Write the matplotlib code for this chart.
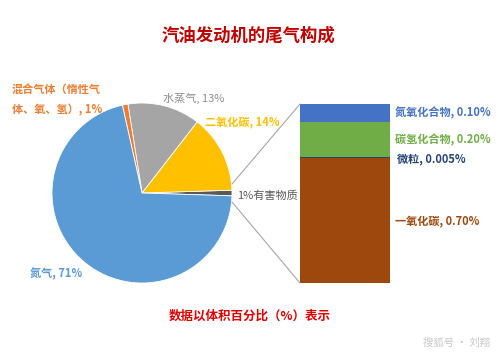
import matplotlib
matplotlib.use("Agg")
import matplotlib.pyplot as plt
from matplotlib.patches import ConnectionPatch
import numpy as np

plt.rcParams['font.family'] = ['Noto Sans CJK SC', 'DejaVu Sans']

# Pie data (counter-clockwise from the harmful slice at 3 o'clock)
pie_labels = ["1%有害物质", "二氧化碳, 14%", "水蒸气, 13%", "混合气体（惰性气\n体、氧、氢）, 1%", "氮气, 71%"]
pie_values = [1, 14, 13, 1, 71]
pie_colors = ["#595959", "#FFC000", "#A5A5A5", "#ED7D31", "#5B9BD5"]

# Stacked bar data (bottom to top)
bar_labels = ["一氧化碳, 0.70%", "微粒, 0.005%", "碳氢化合物, 0.20%", "氮氧化合物, 0.10%"]
bar_values = [0.70, 0.005, 0.20, 0.10]
bar_colors = ["#9E480E", "#264478", "#70AD47", "#4472C4"]

title = "汽油发动机的尾气构成"
note = "数据以体积百分比（%）表示"
watermark = "搜狐号 · 刘翔"

W, H = 500, 356
fig = plt.figure(figsize=(W / 100, H / 100), dpi=100)
fig.patch.set_facecolor("white")

def px_axes(x0, y0, x1, y1):
    return fig.add_axes([x0 / W, 1 - y1 / H, (x1 - x0) / W, (y1 - y0) / H])

# Pie
ax_pie = px_axes(52, 103, 232, 283)
start = -pie_values[0] / sum(pie_values) * 360 / 2
wedges, _ = ax_pie.pie(pie_values, colors=pie_colors, startangle=start, counterclock=True,
                       wedgeprops=dict(edgecolor="white", linewidth=0.6))
ax_pie.set_aspect("equal")
ax_pie.set_xlim(-1, 1)
ax_pie.set_ylim(-1, 1)
ax_pie.axis("off")

# Bar
ax_bar = px_axes(300, 104, 390, 283)
bottom = 0
for v, c in zip(bar_values, bar_colors):
    ax_bar.bar(0, v, width=1, bottom=bottom, color=c, edgecolor="none")
    bottom += v
ax_bar.set_xlim(-0.5, 0.5)
ax_bar.set_ylim(0, sum(bar_values))
ax_bar.axis("off")

# Connection lines (from just outside the small slice to the bar corners)
for ya, yb in [(0.1, sum(bar_values)), (-0.1, 0)]:
    con = ConnectionPatch(xyA=(1.0, ya), coordsA=ax_pie.transData,
                          xyB=(-0.5, yb), coordsB=ax_bar.transData,
                          color="#A6A6A6", linewidth=0.8)
    fig.add_artist(con)

def ftext(x, y, s, color, size=8, weight="bold", ha="left", va="center", **kw):
    fig.text(x / W, 1 - y / H, s, color=color, fontsize=size, fontweight=weight,
             ha=ha, va=va, **kw)

ftext(248, 36, title, "#C00000", size=12.5, ha="center")
ftext(12, 100, pie_labels[3], "#ED7D31", size=8, linespacing=1.6)
ftext(163, 98, pie_labels[2], "#8C8C8C", size=8, weight="normal")
ftext(205, 122, pie_labels[1], "#FFC000", size=8)
ftext(237, 196, pie_labels[0], "#595959", size=8, weight="normal")
ftext(30, 274, pie_labels[4], "#5B9BD5", size=8)

ftext(395, 113, bar_labels[3], "#4472C4", size=8)
ftext(395, 140, bar_labels[2], "#70AD47", size=8)
ftext(397, 159, bar_labels[1], "#264478", size=8)
ftext(395, 221, bar_labels[0], "#9E480E", size=8)

ftext(250, 316, note, "#E00000", size=9, ha="center")
ftext(490, 343, watermark, "#C8C8C8", size=7.5, weight="normal", ha="right")

fig.savefig("out.png", dpi=100, facecolor="white")
